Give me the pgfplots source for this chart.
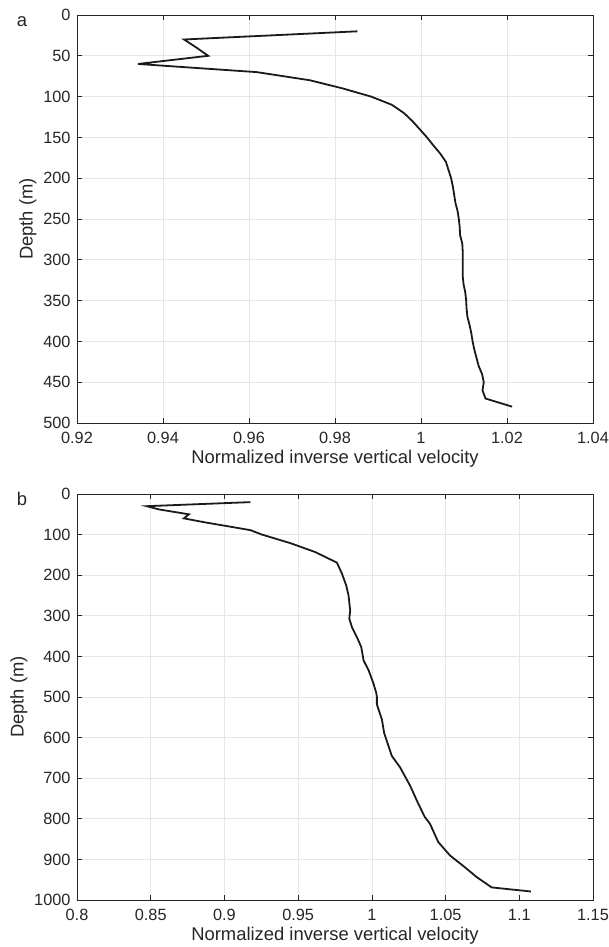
\documentclass[border=0pt]{standalone}
\usepackage{fontspec}
\setmainfont{Liberation Sans}
\usepackage{pgfplots}
\pgfplotsset{compat=1.18}

\definecolor{axgray}{RGB}{38,38,38}
\definecolor{gridgray}{RGB}{230,230,230}
\definecolor{curve}{RGB}{26,26,26}

\pgfplotsset{
  matlabstyle/.style={
    scale only axis,
    width=516pt,
    y dir=reverse,
    axis line style={axgray, line width=0.7pt},
    tick style={axgray, line width=0.7pt},
    major tick length=5pt,
    tick align=inside,
    xtick pos=both, ytick pos=both,
    grid=major,
    major grid style={gridgray, line width=0.7pt},
    /pgf/number format/assume math mode=true,
    /pgf/number format/fixed,
    /pgf/number format/precision=2,
    /pgf/number format/1000 sep={},
    ticklabel style={font=\fontsize{16.3}{18}\selectfont, text=axgray},
    xticklabel style={yshift=-6pt},
    yticklabel style={xshift=-3pt},
    label style={font=\fontsize{18.4}{21}\selectfont, text=axgray},
    xlabel={Normalized inverse vertical velocity},
    ylabel={Depth (m)},
    xlabel style={yshift=1pt},
    scaled x ticks=false,
    clip=false,
  }
}

\begin{document}
\begin{tikzpicture}
\useasboundingbox (-77pt,-524pt) rectangle (532pt,423pt);

% panel a
\begin{axis}[matlabstyle, at={(0,0)}, anchor=south west, height=408pt,
  xmin=0.92, xmax=1.04, xtick={0.92,0.94,...,1.041},
  ymin=0, ymax=500, ytick={0,50,...,500}]
\addplot[curve, line width=1.8pt] coordinates {
(0.9852,20) (0.9449,30) (0.9478,40) (0.9505,50) (0.9342,60) (0.9618,70)
(0.9742,80) (0.9818,90) (0.9884,100) (0.9932,110) (0.9960,120) (0.9980,130)
(0.9997,140) (1.0014,150) (1.0029,160) (1.0045,170) (1.0058,180) (1.0064,190)
(1.0070,200) (1.0074,210) (1.0077,220) (1.0080,230) (1.0085,240) (1.0088,250)
(1.0090,260) (1.0091,270) (1.0096,280) (1.0097,290) (1.0097,300) (1.0097,310)
(1.0097,320) (1.0099,330) (1.0103,340) (1.0105,350) (1.0106,360) (1.0108,370)
(1.0113,380) (1.0117,390) (1.0120,400) (1.0124,410) (1.0129,420) (1.0134,430)
(1.0142,440) (1.0146,450) (1.0143,460) (1.0150,470) (1.0212,480)
};
\end{axis}

% panel b
\begin{axis}[matlabstyle, at={(0,-477pt)}, anchor=south west, height=406pt,
  xmin=0.8, xmax=1.15, xtick={0.8,0.85,...,1.151},
  ymin=0, ymax=1000, ytick={0,100,...,1000}]
\addplot[curve, line width=1.8pt] coordinates {
(0.9176,20) (0.8473,30) (0.8556,38) (0.8759,50) (0.8725,60) (0.8870,70)
(0.9000,78) (0.9176,89) (0.9255,100) (0.9447,121) (0.9616,143) (0.9763,169)
(0.9797,196) (0.9826,225) (0.9842,250) (0.9853,287) (0.9847,307) (0.9865,328)
(0.9898,352) (0.9928,377) (0.9944,410) (0.9980,436) (1.0011,467) (1.0030,490)
(1.0034,500) (1.0034,518) (1.0068,555) (1.0083,588) (1.0135,645) (1.0191,673)
(1.0259,718) (1.0315,763) (1.0360,796) (1.0394,812) (1.0450,857) (1.0529,890)
(1.0630,919) (1.0709,943) (1.0813,969) (1.1079,979)
};
\end{axis}

\node[font=\fontsize{18.4}{21}\selectfont, text=axgray] at (-55pt,401pt) {a};
\node[font=\fontsize{18.4}{21}\selectfont, text=axgray] at (-55pt,-76pt) {b};
\end{tikzpicture}
\end{document}
